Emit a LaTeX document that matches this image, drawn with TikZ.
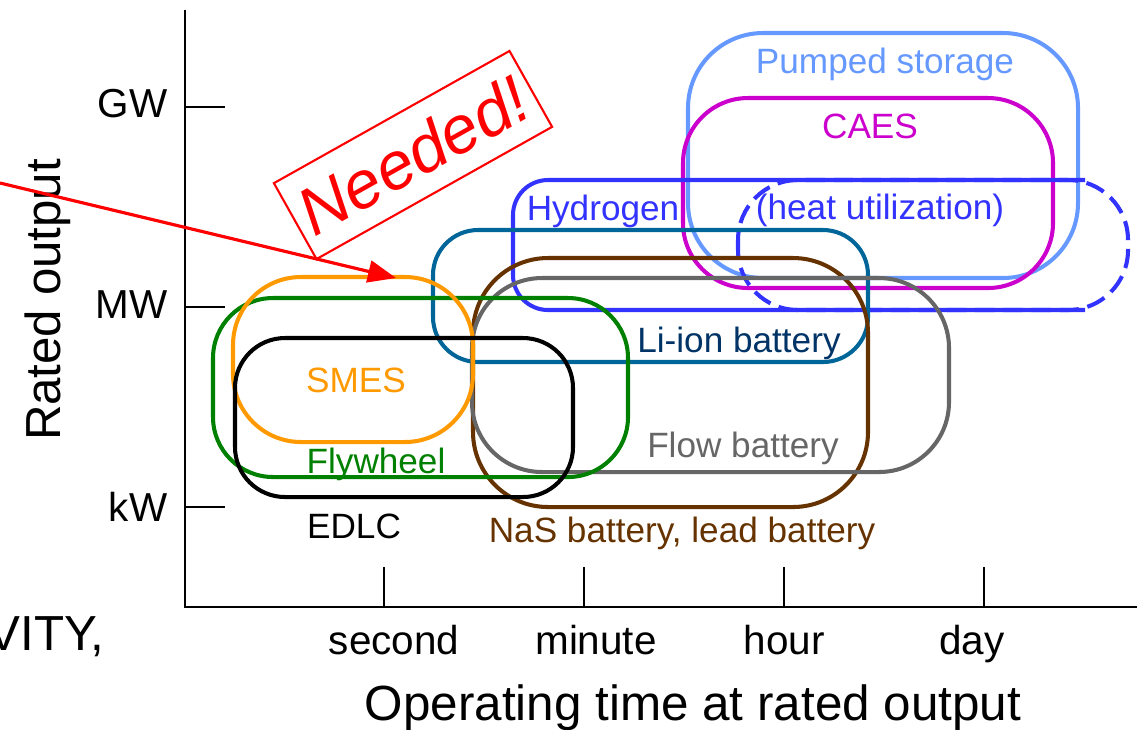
\documentclass[tikz,border=0pt]{standalone}
\usepackage{fontspec}
\setmainfont{Liberation Sans}
\usetikzlibrary{arrows.meta}
\definecolor{pumpcol}{HTML}{6699FF}
\definecolor{caescol}{HTML}{CC00CC}
\definecolor{hydrocol}{HTML}{3333FF}
\definecolor{liioncol}{HTML}{006699}
\definecolor{liiontext}{HTML}{003366}
\definecolor{nascol}{HTML}{663300}
\definecolor{flowcol}{HTML}{666666}
\definecolor{flycol}{HTML}{008000}
\definecolor{smescol}{HTML}{FF9900}
\begin{document}
\begin{tikzpicture}[x=0.01cm,y=-0.01cm]
	\tikzstyle{every node}+=[inner sep=0pt]
	\tikzset{
		region/.style={line width=1.15pt},
		axis/.style={line width=0.7pt},
		boxlabel/.style={anchor=base,font=\fontsize{10}{12}\selectfont},
		ticklabel/.style={anchor=base,font=\fontsize{11.5}{14}\selectfont}
	}
	\useasboundingbox (0,0) rectangle (1140,729);
	% storage regions
	\draw [region,pumpcol,rounded corners=0.75cm] (688,33) rectangle (1078,278);
	\draw [region,caescol,rounded corners=0.65cm] (683,98) rectangle (1053,288);
	\draw [region,hydrocol,rounded corners=0.35cm] (1085,180) -- (513,180) -- (513,310) -- (1085,310);
	\draw [region,hydrocol,dash pattern=on 5.5pt off 2.5pt,rounded corners=0.6cm] (738,180) rectangle (1128,310);
	\draw [region,liioncol,rounded corners=0.45cm] (433,230) rectangle (868,362);
	\draw [region,nascol,rounded corners=0.75cm] (473,258) rectangle (868,507);
	\draw [region,flowcol,rounded corners=0.7cm] (472,278) rectangle (949,472);
	\draw [region,flycol,rounded corners=0.6cm] (213,298) rectangle (628,477);
	\draw [region,smescol,rounded corners=0.68cm] (233,277) rectangle (473,442);
	\draw [region,black,rounded corners=0.5cm] (235,338) rectangle (573,497);
	\node [boxlabel,pumpcol] (pumped) at (885,73) {Pumped storage};
	\node [boxlabel,caescol] (caes) at (870,138) {CAES};
	\node [boxlabel,hydrocol] (hydrogen) at (603,220) {Hydrogen};
	\node [boxlabel,hydrocol] (heat) at (880,219) {(heat utilization)};
	\node [boxlabel,liiontext] (liion) at (739,352) {Li-ion battery};
	\node [boxlabel,flowcol] (flow) at (743,457) {Flow battery};
	\node [boxlabel,smescol] (smes) at (356,392) {SMES};
	\node [boxlabel,flycol] (flywheel) at (376,473) {Flywheel};
	\node [boxlabel] (edlc) at (354,538) {EDLC};
	\node [boxlabel,nascol] (nas) at (682,542) {NaS battery, lead battery};
	% axes
	\draw [axis] (185,10) -- (185,607) -- (1137,607);
	\foreach \y/\b/\u in {107/117/GW,307/318/MW,507/521/kW} {
		\draw [axis] (185,\y) -- (225,\y);
		\node [ticklabel,anchor=base east] (ylab-\u) at (168,\b) {\u};
	}
	\foreach \x/\lx/\t in {384/394/second,584/596/minute,784/784/hour,984/972/day} {
		\draw [axis] (\x,567) -- (\x,607);
		\node [ticklabel] (xlab-\t) at (\lx,654) {\t};
	}
	\node [anchor=base,font=\fontsize{14.05}{16}\selectfont] (xtitle) at (693,720) {Operating time at rated output};
	\node [anchor=base,rotate=90,font=\fontsize{14}{16}\selectfont] (ytitle) at (60,300) {Rated output};
	\node [anchor=base east,font=\fontsize{14}{16}\selectfont] (vity) at (105,650) {VITY,};
	% needed
	\node [draw=red,line width=0.6pt,rotate=29.3,minimum width=2.7cm,minimum height=0.87cm,text=red,font=\fontsize{19}{22}\selectfont\itshape] (needed) at (413,155) {Needed!};
	\coordinate (arrowfrom) at (0,183);
	\coordinate (arrowto) at (396,278);
	\draw [red,line width=0.9pt,-{Triangle[length=0.28cm,width=0.22cm]}] (arrowfrom) -- (arrowto);
\end{tikzpicture}
\end{document}
